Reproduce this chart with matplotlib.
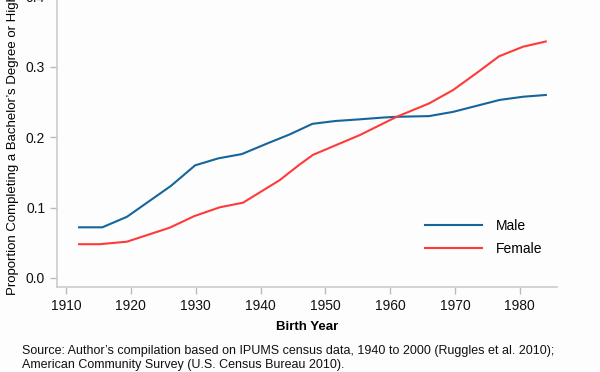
import matplotlib
matplotlib.use("Agg")
from matplotlib import pyplot as plt

plt.rcParams['font.family'] = ['Liberation Sans', 'DejaVu Sans']

# birth year / share with bachelor's degree
male_years = [1912, 1915.6, 1919.4, 1926.2, 1929.9, 1933.5, 1937.1, 1941, 1944.5, 1948,
              1951.5, 1955.3, 1959, 1961, 1966, 1969.7, 1976.9, 1980.5, 1984]
male_share = [0.072, 0.072, 0.087, 0.131, 0.160, 0.170, 0.176, 0.191, 0.204, 0.219,
              0.223, 0.2254, 0.228, 0.229, 0.230, 0.236, 0.253, 0.2575, 0.260]

female_years = [1912, 1915.2, 1919.4, 1926, 1929.8, 1933.7, 1937.3, 1942.95, 1946,
                1948.1, 1955.3, 1961, 1966, 1969.7, 1973.6, 1976.8, 1980.5, 1984]
female_share = [0.048, 0.048, 0.0516, 0.0715, 0.088, 0.1004, 0.107, 0.139, 0.161,
                0.175, 0.203, 0.229, 0.248, 0.267, 0.293, 0.315, 0.3286, 0.336]

x_ticks = [1910, 1920, 1930, 1940, 1950, 1960, 1970, 1980]
y_ticks = [0.0, 0.1, 0.2, 0.3, 0.4]

fig = plt.figure(figsize=(6, 3.72), dpi=100, facecolor='#fcfdfc')
ax = fig.add_axes([0.095, 0.2285, 0.833, 0.80])
ax.set_facecolor('#fcfdfc')

ax.plot(male_years, male_share, color='#15659c', lw=1.5, label='Male')
ax.plot(female_years, female_share, color='#ff3a3a', lw=1.5, label='Female')

ax.set_xlim(1908.6, 1985.7)
ax.set_ylim(-0.0128, 0.41)
ax.set_xticks(x_ticks)
ax.set_yticks(y_ticks)
ax.set_yticklabels([f'{v:.1f}' for v in y_ticks])

for side in ['top', 'right']:
    ax.spines[side].set_visible(False)
for side in ['left', 'bottom']:
    ax.spines[side].set_color('#cccccc')
    ax.spines[side].set_linewidth(1.2)
ax.tick_params(colors='#bbbbbb', labelcolor='#111111', labelsize=10, length=5, width=1)

ax.set_xlabel('Birth Year', fontsize=9.5, fontweight='bold', labelpad=6)
ax.set_ylabel('Proportion Completing a Bachelor\u2019s Degree or Higher', fontsize=9.5, labelpad=5)

ax.legend(loc='center left', bbox_to_anchor=(0.687, 0.362), bbox_transform=fig.transFigure,
          frameon=False, fontsize=10, handlelength=4.1, handletextpad=1.0, labelspacing=0.6)

fig.text(0.036, 0.038, 'Source: Author\u2019s compilation based on IPUMS census data, 1940 to 2000 '
         '(Ruggles et al. 2010);\nAmerican Community Survey (U.S. Census Bureau 2010).',
         fontsize=9, color='#111111', ha='left', va='center', linespacing=1.2)

fig.savefig('out.png', dpi=100, facecolor=fig.get_facecolor())
